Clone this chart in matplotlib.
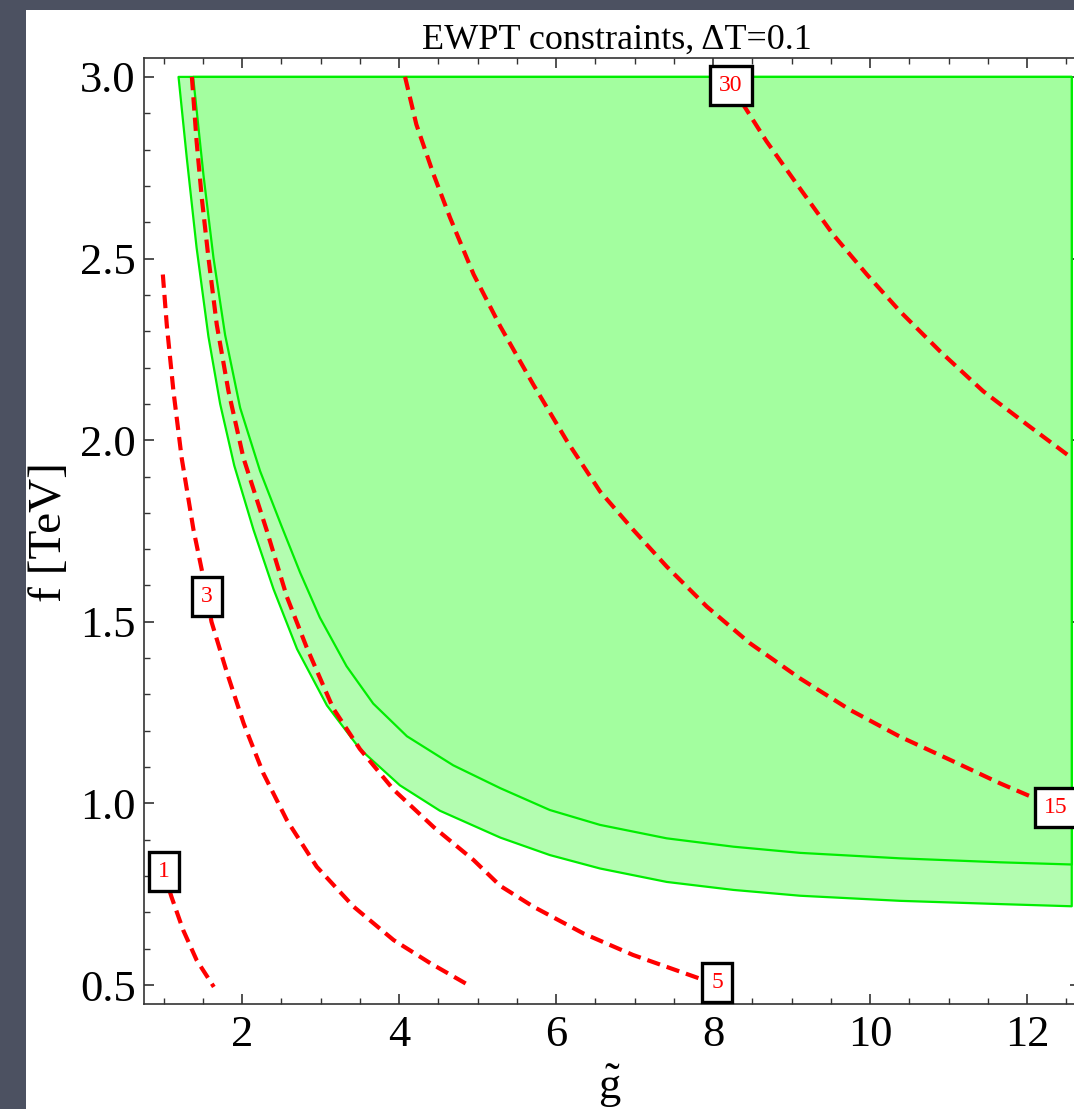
import matplotlib
matplotlib.use("Agg")
import matplotlib.pyplot as plt
from matplotlib.patches import Rectangle, Polygon
from matplotlib.ticker import MultipleLocator

plt.rcParams['font.family'] = ['Liberation Serif', 'DejaVu Serif']
plt.rcParams['mathtext.fontset'] = 'custom'
plt.rcParams['mathtext.rm'] = 'Liberation Serif'
plt.rcParams['mathtext.it'] = 'Liberation Serif:italic'

# ---------------- data ----------------
title = "EWPT constraints, \u0394T=0.1"
xlabel = r"$\tilde{\mathrm{g}}$"
ylabel = "f [TeV]"
xticks = [2, 4, 6, 8, 10, 12]
yticks = [0.5, 1.0, 1.5, 2.0, 2.5, 3.0]

# outer (light) allowed region lower boundary
outer_g = [1.19, 1.295, 1.42, 1.571, 1.72, 1.90, 2.144, 2.40, 2.70, 3.08, 3.50,
           4.01, 4.52, 5.29, 5.92, 6.56, 7.41, 8.26, 9.11, 10.38, 11.66, 12.57]
outer_f = [3.000, 2.777, 2.530, 2.285, 2.100, 1.930, 1.754, 1.590, 1.425, 1.270, 1.150,
           1.050, 0.980, 0.906, 0.858, 0.821, 0.784, 0.762, 0.746, 0.732, 0.723, 0.717]
# inner (darker) allowed region lower boundary
inner_g = [1.376, 1.507, 1.635, 1.783, 1.975, 2.229, 2.505, 2.74, 2.99, 3.33, 3.67,
           4.10, 4.69, 5.29, 5.92, 6.56, 7.41, 8.26, 9.11, 10.38, 11.66, 12.57]
inner_f = [3.000, 2.731, 2.502, 2.290, 2.089, 1.915, 1.762, 1.635, 1.512, 1.378, 1.275,
           1.185, 1.105, 1.042, 0.982, 0.941, 0.904, 0.881, 0.864, 0.849, 0.838, 0.832]
region_top = 3.0
region_right = 12.57

# dashed contour lines
c1_g = [1.00, 1.10, 1.25, 1.42, 1.64]
c1_f = [0.812, 0.743, 0.651, 0.569, 0.495]
c3_g = [0.99, 1.04, 1.125, 1.23, 1.38, 1.486, 1.55, 1.61, 1.81, 2.02, 2.27, 2.57,
        2.95, 3.42, 3.93, 4.40, 4.86]
c3_f = [2.456, 2.318, 2.135, 1.951, 1.754, 1.643, 1.571, 1.50, 1.358, 1.220, 1.083,
        0.954, 0.826, 0.716, 0.624, 0.560, 0.503]
c5_g = [1.36, 1.42, 1.486, 1.571, 1.677, 1.826, 2.017, 2.31, 2.57, 2.82, 3.16, 3.50,
        3.93, 4.44, 4.95, 5.29, 5.71, 6.35, 6.98, 7.83, 8.05]
c5_f = [3.000, 2.823, 2.667, 2.502, 2.318, 2.135, 1.951, 1.754, 1.569, 1.431, 1.262,
        1.150, 1.038, 0.935, 0.844, 0.773, 0.716, 0.642, 0.583, 0.518, 0.507]
c15_g = [4.076, 4.22, 4.44, 4.65, 4.95, 5.29, 5.71, 6.14, 6.56, 6.98, 7.41, 7.92,
         8.47, 9.11, 9.75, 10.38, 11.02, 11.66, 12.06, 12.36]
c15_f = [3.000, 2.869, 2.731, 2.612, 2.456, 2.313, 2.153, 1.997, 1.859, 1.754, 1.652,
         1.542, 1.441, 1.344, 1.257, 1.184, 1.12, 1.055, 1.018, 0.99]
c30_g = [8.23, 8.41, 8.68, 9.11, 9.53, 9.96, 10.38, 10.89, 11.44, 12.0, 12.57]
c30_f = [2.977, 2.915, 2.823, 2.692, 2.566, 2.456, 2.355, 2.245, 2.135, 2.043, 1.951]

contour_values = ["1", "3", "5", "15", "30"]
label_pos_g = [1.00, 1.55, 8.05, 12.37, 8.23]
label_pos_f = [0.812, 1.571, 0.507, 0.99, 2.977]

# ---------------- figure ----------------
W, H = 1074, 1109
fig = plt.figure(figsize=(W / 100, H / 100), dpi=100)
fig.patch.set_facecolor('#4c5161')
fig.add_artist(Rectangle((26 / W, 0), 1.0, 1 - 10 / H, transform=fig.transFigure,
                         facecolor='white', edgecolor='none', zorder=0))

ax_l, ax_r, ax_t, ax_b = 144, 1080, 58, 1004
ax = fig.add_axes([ax_l / W, 1 - ax_b / H, (ax_r - ax_l) / W, (ax_b - ax_t) / H])
ax.set_facecolor('none')
ax.set_xlim(0.75, 12.675)
ax.set_ylim(0.448, 3.052)

light = '#b3fdb0'
dark = '#a3fe9f'
edge = '#00ee00'

outer_poly = list(zip(outer_g, outer_f)) + [(region_right, region_top)]
inner_poly = list(zip(inner_g, inner_f)) + [(region_right, region_top)]
ax.add_patch(Polygon(outer_poly, closed=True, facecolor=light, edgecolor=edge, lw=1.6,
                     joinstyle='round', zorder=1))
ax.add_patch(Polygon(inner_poly, closed=True, facecolor=dark, edgecolor=edge, lw=1.6,
                     joinstyle='round', zorder=2))

for gx, fy in [(c1_g, c1_f), (c3_g, c3_f), (c5_g, c5_f), (c15_g, c15_f), (c30_g, c30_f)]:
    ax.plot(gx, fy, color='#ff0000', lw=3.0, dashes=(3.2, 1.7), zorder=3,
            solid_capstyle='butt', dash_capstyle='butt', dash_joinstyle='round')

for txt, gx, fy in zip(contour_values, label_pos_g, label_pos_f):
    ax.text(gx, fy, txt, color='#ff0000', fontsize=17, ha='center', va='center', zorder=5,
            bbox=dict(boxstyle='square,pad=0.38', facecolor='white', edgecolor='black', lw=2.4))

ax.set_xticks(xticks)
ax.set_yticks(yticks)
ax.set_xticklabels([str(t) for t in xticks])
ax.set_yticklabels([f"{t:.1f}" for t in yticks])
ax.xaxis.set_minor_locator(MultipleLocator(0.5))
ax.yaxis.set_minor_locator(MultipleLocator(0.1))
ax.tick_params(which='both', direction='in', top=True, right=True, colors='#333333',
               labelcolor='black', labelsize=32)
ax.tick_params(which='major', length=7, width=1.2)
ax.tick_params(which='minor', length=4.5, width=1.0)
ax.tick_params(axis='x', pad=8)
ax.tick_params(axis='y', pad=6)
for s in ax.spines.values():
    s.set_color('#333333')
    s.set_linewidth(1.2)

fig.text(617 / W, 1 - 40 / H, title, ha='center', va='center', fontsize=26, color='black')
fig.text(610 / W, 1 - 1086 / H, xlabel, ha='center', va='center', fontsize=32, color='black')
fig.text(50 / W, 1 - 532 / H, ylabel, ha='center', va='center', rotation=90, fontsize=34,
         color='black')

fig.savefig('out.png', dpi=100, facecolor=fig.get_facecolor())
